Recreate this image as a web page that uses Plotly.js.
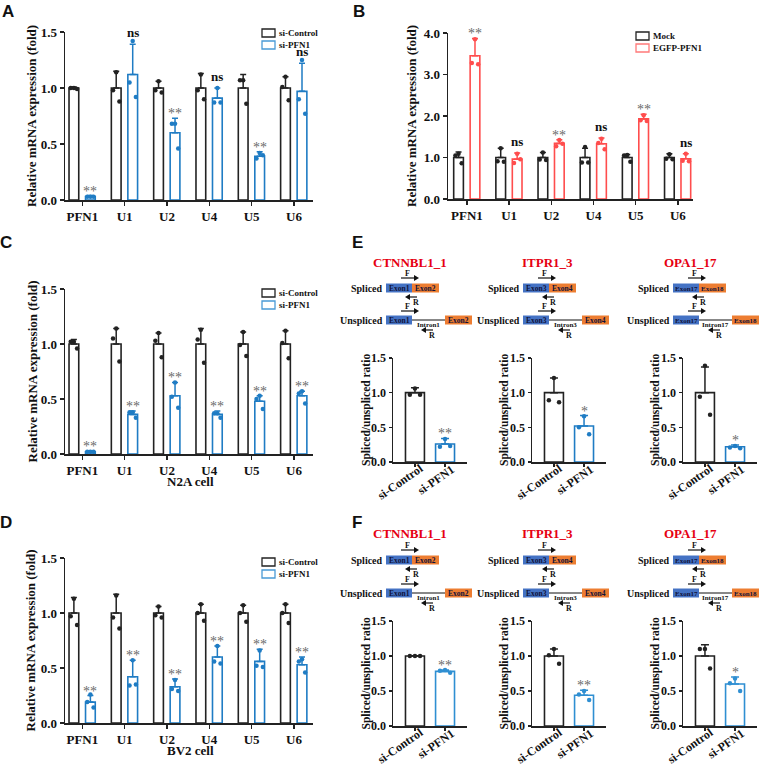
<!DOCTYPE html>
<html><head><meta charset="utf-8">
<script src="https://cdn.plot.ly/plotly-3.0.1.min.js"></script>
<style>html,body{margin:0;padding:0;background:#fff}#chart{width:759px;height:766px}</style>
</head><body><div id="chart"></div>
<script>
// ---------------- DATA ----------------
const genes = ["PFN1","U1","U2","U4","U5","U6"];
const groupTicks = ["si-Control","si-PFN1"];
const yTicks15 = [0,0.5,1.0,1.5];
const yTicks4 = [0,1,2,3,4];

// Panel A (si-Control vs si-PFN1)
const aCtrlMean = [1.00,1.00,1.00,1.00,1.00,1.00];
const aCtrlSD   = [0.01,0.15,0.06,0.13,0.12,0.10];
const aCtrlDots = [[1.00,1.00,0.99],[1.14,0.98,0.88],[1.06,0.98,0.96],[1.12,0.98,0.90],[1.07,1.07,0.86],[1.10,1.01,0.89]];
const aKdMean   = [0.03,1.12,0.60,0.91,0.39,0.97];
const aKdSD     = [0.01,0.27,0.13,0.09,0.04,0.25];
const aKdDots   = [[0.03,0.03,0.03],[1.42,1.05,0.92],[0.68,0.68,0.46],[1.00,0.87,0.87],[0.42,0.37,0.40],[1.25,0.90,0.77]];
const aSig      = ["**","ns","**","ns","**","ns"];

// Panel B (Mock vs EGFP-PFN1)
const bMockMean = [1.00,1.00,1.00,1.00,1.00,1.00];
const bMockSD   = [0.13,0.22,0.12,0.22,0.07,0.09];
const bMockDots = [[1.09,1.05,0.86],[1.22,0.91,0.90],[1.12,0.95,0.94],[1.25,0.88,0.88],[1.06,1.05,0.90],[1.08,0.97,0.96]];
const bOeMean   = [3.45,0.96,1.34,1.33,1.93,0.97];
const bOeSD     = [0.42,0.15,0.09,0.14,0.11,0.12];
const bOeDots   = [[3.85,3.28,3.25],[1.09,0.87,0.96],[1.42,1.27,1.33],[1.45,1.35,1.20],[2.02,1.90,1.88],[1.09,0.92,0.91]];
const bSig      = ["**","ns","**","ns","**","ns"];

// Panel C (N2A cell)
const cCtrlMean = [1.00,1.00,1.00,1.00,1.00,1.00];
const cCtrlSD   = [0.04,0.14,0.10,0.14,0.11,0.12];
const cCtrlDots = [[1.02,1.02,0.96],[1.14,1.05,0.84],[1.10,1.03,0.88],[1.13,1.04,0.83],[1.11,0.99,0.89],[1.12,1.01,0.87]];
const cKdMean   = [0.02,0.36,0.53,0.36,0.48,0.53];
const cKdSD     = [0.01,0.03,0.12,0.03,0.05,0.04];
const cKdDots   = [[0.02,0.02,0.02],[0.38,0.38,0.33],[0.65,0.52,0.42],[0.37,0.37,0.33],[0.53,0.50,0.41],[0.57,0.55,0.46]];
const cSig      = ["**","**","**","**","**","**"];

// Panel D (BV2 cell)
const dCtrlMean = [1.00,1.00,1.00,1.00,1.00,1.00];
const dCtrlSD   = [0.14,0.17,0.06,0.08,0.07,0.08];
const dCtrlDots = [[1.13,0.97,0.89],[1.16,0.96,0.86],[1.06,0.98,0.96],[1.08,1.00,0.93],[1.07,1.00,0.92],[1.08,1.00,0.91]];
const dKdMean   = [0.19,0.42,0.33,0.60,0.56,0.53];
const dKdSD     = [0.06,0.15,0.07,0.10,0.11,0.07];
const dKdDots   = [[0.26,0.19,0.14],[0.57,0.34,0.35],[0.39,0.31,0.29],[0.70,0.56,0.54],[0.66,0.52,0.51],[0.58,0.56,0.46]];
const dSig      = ["**","**","**","**","**","**"];

// Panels E / F (spliced/unspliced ratio)
const spliceGenes = ["CTNNBL1_1","ITPR1_3","OPA1_17"];
const exonLabels  = [["Exon1","Exon2"],["Exon3","Exon4"],["Exon17","Exon18"]];
const intronLabels = ["Intron1","Intron3","Intron17"];

const eCtrlMean = [1.00,1.00,1.00];
const eCtrlSD   = [0.07,0.21,0.37];
const eCtrlDots = [[1.06,0.97,0.97],[1.21,0.89,0.86],[1.39,0.94,0.68]];
const eKdMean   = [0.26,0.52,0.22];
const eKdSD     = [0.08,0.15,0.025];
const eKdDots   = [[0.33,0.22,0.23],[0.66,0.50,0.40],[0.23,0.21,0.20]];
const eSig      = ["**","*","*"];

const fCtrlMean = [1.00,1.00,1.00];
const fCtrlSD   = [0.005,0.10,0.16];
const fCtrlDots = [[1.00,1.00,1.00],[1.10,1.01,0.89],[1.10,1.10,0.82]];
const fKdMean   = [0.78,0.44,0.60];
const fKdSD     = [0.02,0.07,0.10];
const fKdDots   = [[0.80,0.79,0.76],[0.50,0.45,0.37],[0.68,0.61,0.50]];
const fSig      = ["**","**","*"];

// ---------------- STYLE / LAYOUT HELPERS ----------------
const W = 759, H = 766;
const PX = x => x / W;
const PY = y => 1 - y / H;
const SERIF = "Liberation Serif, 'Times New Roman', serif";
const SANS = "Liberation Sans, Arial, sans-serif";
const BLACK = "#222222";
const BLUE = "#1f7cc4";
const BLUE_L = "#4a9ad6";
const RED = "#ff4d4d";
const STAR = "#6a6a6a";

const traces = [], annotations = [], shapes = [];
const layout = {
  width: W, height: H, margin: {l:0,r:0,t:0,b:0},
  paper_bgcolor: "#fff", plot_bgcolor: "rgba(0,0,0,0)",
  barmode: "overlay", showlegend: false,
  annotations, shapes
};

function txt(x, y, text, o) {
  o = o || {};
  annotations.push({
    xref: "paper", yref: "paper", x: PX(x), y: PY(y), text: text, showarrow: false,
    xanchor: o.xa || "center", yanchor: o.ya || "middle", textangle: o.angle || 0,
    font: {family: o.family || SERIF, size: o.size || 13, color: o.color || "#111", weight: o.weight || "bold"}
  });
}

let axN = 0;
function addPanel(cfg) {
  axN++;
  const xa = axN === 1 ? "x" : "x" + axN;
  const ya = axN === 1 ? "y" : "y" + axN;
  const tickFont = {family: SERIF, size: cfg.tickSize || 13, color: "#111", weight: "bold"};
  const tl = cfg.ticklen || 4;
  layout[axN === 1 ? "xaxis" : "xaxis" + axN] = {
    domain: [PX(cfg.left), PX(cfg.right)], range: cfg.xrange, anchor: ya,
    tickmode: "array", tickvals: cfg.cats.map((c, i) => i), ticktext: cfg.cats,
    showticklabels: !cfg.angledLabels,
    showline: true, linecolor: BLACK, linewidth: 1.5,
    ticks: "outside", ticklen: tl, tickwidth: 1.5, tickcolor: BLACK,
    tickfont: tickFont,
    showgrid: false, zeroline: false, fixedrange: true
  };
  layout[axN === 1 ? "yaxis" : "yaxis" + axN] = {
    domain: [PY(cfg.bottom), PY(cfg.top)], range: [0, cfg.ymax], anchor: xa,
    tickmode: "array", tickvals: cfg.yticks, ticktext: cfg.yticks.map(v => v.toFixed(1)),
    showline: true, linecolor: BLACK, linewidth: 1.5,
    ticks: "outside", ticklen: tl, tickwidth: 1.5, tickcolor: BLACK,
    tickfont: tickFont, showgrid: false, zeroline: false, fixedrange: true
  };
  if (cfg.angledLabels) {
    // rotated category labels, as in the reference (text ends near the tick)
    cfg.cats.forEach((c, i) => {
      annotations.push({
        xref: xa, yref: "paper", x: i, xshift: i === 0 ? -15 : -9.5,
        y: PY(cfg.bottom + (i === 0 ? 19.5 : 17.5)), text: c, showarrow: false,
        xanchor: "center", yanchor: "middle", textangle: -35,
        font: {family: SERIF, size: 12, color: "#111", weight: "bold"}
      });
    });
  }
  cfg.series.forEach(s => {
    const xs = s.pos.map(p => p + s.offset);
    traces.push({
      type: "bar", x: xs, y: s.mean, width: cfg.barw, xaxis: xa, yaxis: ya,
      marker: {color: "#ffffff", line: {color: s.color, width: 1.6}},
      error_y: {type: "data", symmetric: false, array: s.sd, arrayminus: s.sd.map(() => 0),
                color: s.color, thickness: 1.5, width: cfg.capw},
      hoverinfo: "skip"
    });
    const dx = [], dy = [];
    s.dots.forEach((arr, i) => arr.forEach((v, j) => { dx.push(xs[i] + cfg.jitter[j]); dy.push(v); }));
    traces.push({
      type: "scatter", mode: "markers", x: dx, y: dy, xaxis: xa, yaxis: ya,
      marker: {color: s.color, size: 4.5}, cliponaxis: false, hoverinfo: "skip"
    });
    if (s.sig) s.sig.forEach((t, i) => {
      const ns = t === "ns";
      annotations.push({
        xref: xa, yref: ya, x: xs[i], y: s.mean[i] + s.sd[i], yanchor: "bottom", xanchor: "center",
        text: t, showarrow: false, yshift: ns ? 2 : -5,
        font: ns ? {family: SERIF, size: 13, color: "#111", weight: "bold"}
                 : {family: SERIF, size: 14, color: STAR, weight: "normal"}
      });
    });
  });
  if (cfg.ytitle) txt(cfg.ytitleX, (cfg.top + cfg.bottom) / 2, cfg.ytitle, {angle: -90, size: cfg.ytitleSize || 13});
  if (cfg.xtitle) txt((cfg.left + cfg.right) / 2 + 1, cfg.bottom + 27, cfg.xtitle, {size: 13});
}

function legend(x0, yc, labels, colors) {
  labels.forEach((lab, k) => {
    const y = yc + k * 12;
    shapes.push({type: "rect", xref: "paper", yref: "paper",
      x0: PX(x0), x1: PX(x0 + 13), y0: PY(y + 4), y1: PY(y - 4),
      line: {color: colors[k], width: 1.3}, fillcolor: "rgba(0,0,0,0)"});
    txt(x0 + 15, y, lab, {xa: "left", size: 9});
  });
}

const idx = genes.map((g, i) => i);
const jit6 = [0, -0.075, 0.075];
function bigPanel(top, bottom, left, right, xrange, ymax, yticks, ctrl, kd, ctrlColor, kdColor, sig, xtitle, ytX) {
  addPanel({
    left, right, top, bottom, xrange, ymax, yticks, cats: genes, barw: 0.23, capw: 3, jitter: jit6,
    ytitle: "Relative mRNA expression (fold)", ytitleX: ytX, xtitle,
    series: [
      {pos: idx, offset: -0.2, mean: ctrl[0], sd: ctrl[1], dots: ctrl[2], color: ctrlColor},
      {pos: idx, offset: 0.19, mean: kd[0], sd: kd[1], dots: kd[2], color: kdColor, sig}
    ]
  });
}

bigPanel(32, 200, 65, 313, [-0.41, 5.45], 1.5, yTicks15, [aCtrlMean, aCtrlSD, aCtrlDots], [aKdMean, aKdSD, aKdDots], BLACK, BLUE, aSig, null, 32);
bigPanel(33, 199, 448, 693, [-0.45, 5.36], 4, yTicks4, [bMockMean, bMockSD, bMockDots], [bOeMean, bOeSD, bOeDots], BLACK, RED, bSig, null, 412);
bigPanel(289, 454, 65, 313, [-0.41, 5.45], 1.5, yTicks15, [cCtrlMean, cCtrlSD, cCtrlDots], [cKdMean, cKdSD, cKdDots], BLACK, BLUE, cSig, "N2A cell", 32);
bigPanel(558, 723, 65, 313, [-0.41, 5.45], 1.5, yTicks15, [dCtrlMean, dCtrlSD, dCtrlDots], [dKdMean, dKdSD, dKdDots], BLACK, BLUE, dSig, "BV2 cell", 30);

legend(262, 33, ["si-Control", "si-PFN1"], [BLACK, BLUE_L]);
legend(636, 36, ["Mock", "EGFP-PFN1"], [BLACK, "#ff7a7a"]);
legend(262, 293, ["si-Control", "si-PFN1"], [BLACK, BLUE_L]);
legend(262, 562, ["si-Control", "si-PFN1"], [BLACK, BLUE_L]);

// Small splice panels
const spLeft = [393, 532, 683];
const spTitleX = [366, 504, 655];
const jit2 = [0, -0.17, 0.17];
function smallPanels(top, bottom, ctrlMean, ctrlSD, ctrlDots, kdMean, kdSD, kdDots, sig, kdColor) {
  spliceGenes.forEach((g, j) => {
    addPanel({
      left: spLeft[j], right: spLeft[j] + 74, top, bottom, xrange: [-0.73, 1.73], ymax: 1.5, yticks: yTicks15,
      cats: groupTicks, angledLabels: true, tickSize: 12, ticklen: 3, barw: 0.63, capw: 4, jitter: jit2,
      ytitle: "Spliced/unspliced ratio", ytitleX: spTitleX[j], ytitleSize: 11.5,
      series: [
        {pos: [0], offset: 0, mean: [ctrlMean[j]], sd: [ctrlSD[j]], dots: [ctrlDots[j]], color: BLACK},
        {pos: [1], offset: 0, mean: [kdMean[j]], sd: [kdSD[j]], dots: [kdDots[j]], color: kdColor, sig: [sig[j]]}
      ]
    });
  });
}
smallPanels(358, 462, eCtrlMean, eCtrlSD, eCtrlDots, eKdMean, eKdSD, eKdDots, eSig, BLUE);
smallPanels(621, 726, fCtrlMean, fCtrlSD, fCtrlDots, fKdMean, fKdSD, fKdDots, fSig, "#2f8fd2");

// Splicing diagrams
const diagBase = [386, 523, 673];
const geneTitleX = [410, 547, 690];
const EXB = "#4472c4", EXO = "#ed7d31";
function rectPx(x0, x1, y0, y1, fill) {
  shapes.push({type: "rect", xref: "paper", yref: "paper", x0: PX(x0), x1: PX(x1), y0: PY(y1), y1: PY(y0),
    line: {width: 0}, fillcolor: fill});
}
function linePx(x0, y0, x1, y1, w) {
  shapes.push({type: "line", xref: "paper", yref: "paper", x0: PX(x0), x1: PX(x1), y0: PY(y0), y1: PY(y1),
    line: {color: "#111", width: w || 1}});
}
function arrowPx(xTail, xHead, y) {
  const dir = xHead > xTail ? 1 : -1;
  const xb = xHead - dir * 5;
  linePx(xTail, y, xb, y, 1.2);
  shapes.push({type: "path", xref: "paper", yref: "paper",
    path: `M ${PX(xHead)} ${PY(y)} L ${PX(xb)} ${PY(y - 3)} L ${PX(xb)} ${PY(y + 3)} Z`,
    fillcolor: "#111", line: {width: 0}});
}
function exonBox(x0, x1, y, fill, label) {
  rectPx(x0, x1, y - 4.5, y + 4.5, fill);
  txt((x0 + x1) / 2, y + 0.5, label, {size: label.length > 5 ? 7 : 7.5, color: "#10123a"});
}
function diagrams(titleY, sY, uY) {
  spliceGenes.forEach((g, j) => {
    const b = diagBase[j];
    txt(geneTitleX[j], titleY, g, {size: 13, color: "#e60012"});
    // spliced
    txt(b - 1, sY, "Spliced", {xa: "right", size: 10});
    exonBox(b, b + 26, sY, EXB, exonLabels[j][0]);
    exonBox(b + 26, b + 53, sY, EXO, exonLabels[j][1]);
    arrowPx(b + 15, b + 33, sY - 10);
    txt(b + 21, sY - 14.5, "F", {size: 8});
    arrowPx(b + 31, b + 19, sY + 9);
    txt(b + 30, sY + 14, "R", {size: 8});
    // unspliced
    txt(b - 1, uY, "Unspliced", {xa: "right", size: 10});
    linePx(b + 26, uY, b + 59, uY, 1);
    exonBox(b, b + 26, uY, EXB, exonLabels[j][0]);
    exonBox(b + 59, b + 86, uY, EXO, exonLabels[j][1]);
    txt(b + 42.5, uY + 5, intronLabels[j], {size: 7});
    arrowPx(b + 15, b + 33, uY - 9);
    txt(b + 21, uY - 13.5, "F", {size: 8});
    arrowPx(b + 47, b + 35, uY + 10);
    txt(b + 46, uY + 15, "R", {size: 8});
  });
}
diagrams(262, 288, 320);
diagrams(533, 560, 593);

// Panel letters
[["A", 8, 12], ["B", 359, 12], ["C", 6, 243], ["D", 6, 522], ["E", 357, 243], ["F", 357, 522]].forEach(p =>
  txt(p[1], p[2], p[0], {family: SANS, size: 17}));

Plotly.newPlot("chart", traces, layout, {staticPlot: true, displayModeBar: false});
</script>
</body></html>
